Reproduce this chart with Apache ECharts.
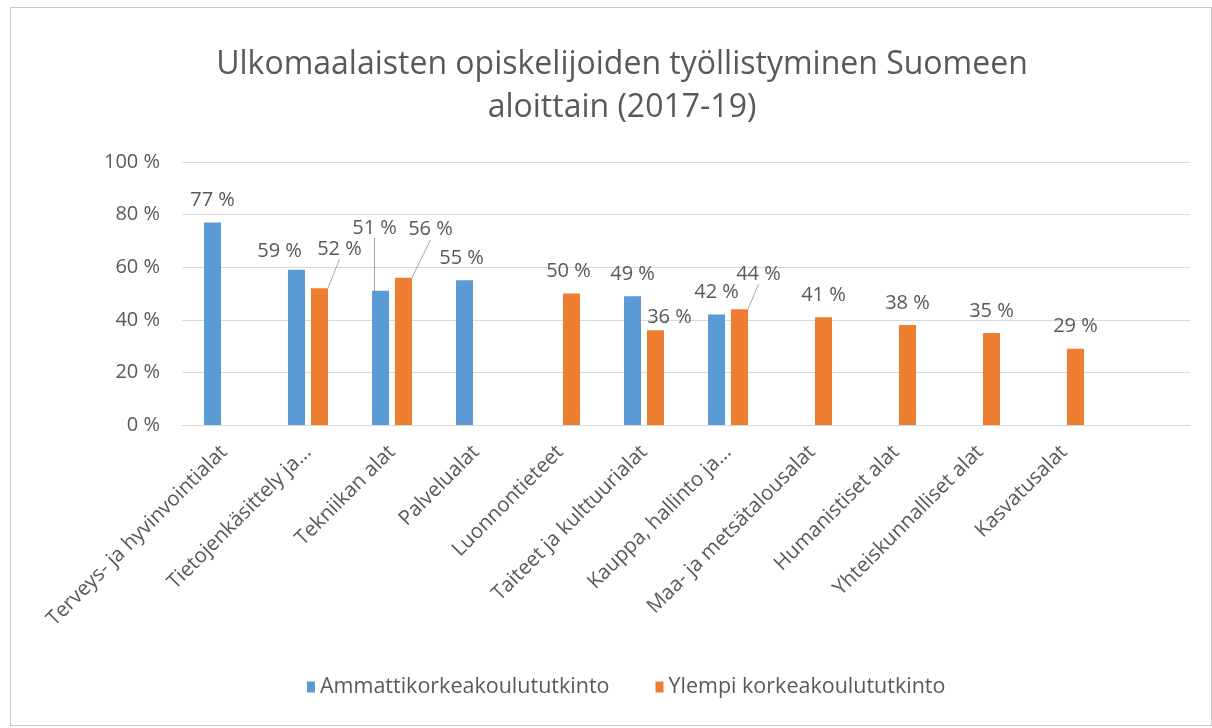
<!DOCTYPE html>
<html>
<head>
<meta charset="utf-8">
<script src="https://cdn.jsdelivr.net/npm/echarts@6/dist/echarts.min.js"></script>
<style>
  html, body { margin: 0; padding: 0; background: #fff; }
  #chart { width: 1212px; height: 728px; }
  .frame {
    position: absolute; left: 10px; top: 7px; width: 1202px; height: 719px;
    border: 1px solid #c8c8c8; box-sizing: border-box; pointer-events: none;
  }
</style>
</head>
<body>
<div id="chart"></div>
<div class="frame"></div>
<script>
  // aloittain, viimeinen tyhjä rivi kuten Excelissä
  var categories = [
    'Terveys- ja hyvinvointialat', 'Tietojenkäsittely ja...', 'Tekniikan alat',
    'Palvelualat', 'Luonnontieteet', 'Taiteet ja kulttuurialat',
    'Kauppa, hallinto ja...', 'Maa- ja metsätalousalat', 'Humanistiset alat',
    'Yhteiskunnalliset alat', 'Kasvatusalat', ''
  ];
  var seriesNames = ['Ammattikorkeakoulututkinto', 'Ylempi korkeakoulututkinto'];
  var amk = [77, 59, 51, 55, null, 49, 42, null, null, null, null, null];
  var ylempi = [null, 52, 56, null, 50, 36, 44, 41, 38, 35, 29, null];
  var yTicks = [0, 20, 40, 60, 80, 100];

  var grey = '#595959';
  var font = 'Open Sans';

  // siirretyt datatunnisteet (dx, dy, johtoviiva)
  var moved = {
    '0-1': [-17, 3, false], '0-2': [-6, -41, true], '0-3': [-3, 0, false],
    '1-1': [20, -17, true], '1-2': [27, -26, true], '1-4': [-3, 0, false],
    '1-5': [14, 9, false], '1-6': [19, -13, true]
  };

  function toItems(values, s) {
    return values.map(function (v, i) {
      var m = moved[s + '-' + i];
      return {
        value: v,
        labelLine: { show: !!(m && m[2]), lineStyle: { color: '#a6a6a6', width: 1 } }
      };
    });
  }

  var myChart = echarts.init(document.getElementById('chart'));
  var option = {
    animation: false,
    textStyle: { fontFamily: font },
    title: {
      text: 'Ulkomaalaisten opiskelijoiden työllistyminen Suomeen\naloittain (2017-19)',
      left: 622,
      textAlign: 'center',
      top: 43,
      padding: 0,
      textStyle: { fontFamily: font, fontSize: 32, fontWeight: 'normal', color: grey, lineHeight: 43 }
    },
    legend: {
      data: seriesNames,
      top: 671,
      left: 302,
      itemWidth: 8,
      itemHeight: 11,
      itemGap: 46,
      icon: 'rect',
      textStyle: { fontFamily: font, fontSize: 21.5, color: grey }
    },
    grid: { left: 182, right: 22, top: 162, bottom: 303, containLabel: false },
    xAxis: {
      type: 'category',
      data: categories,
      axisLine: { lineStyle: { color: '#d9d9d9' } },
      axisTick: { show: false },
      axisLabel: { interval: 0, rotate: 45, margin: 24, fontFamily: font, fontSize: 20.5, color: grey }
    },
    yAxis: {
      type: 'value',
      min: yTicks[0],
      max: yTicks[yTicks.length - 1],
      interval: 20,
      axisLine: { show: false },
      axisTick: { show: false },
      splitLine: { lineStyle: { color: '#d9d9d9', width: 1 } },
      axisLabel: { margin: 22, fontFamily: font, fontSize: 20, color: grey, formatter: '{value} %' }
    },
    series: [
      {
        name: seriesNames[0],
        type: 'bar',
        data: toItems(amk, 0),
        barWidth: 17,
        barGap: '35%',
        itemStyle: { color: '#5b9bd5' },
        label: { show: true, position: 'top', distance: 12, fontSize: 20, color: grey, formatter: '{c} %' }
      },
      {
        name: seriesNames[1],
        type: 'bar',
        data: toItems(ylempi, 1),
        barWidth: 17,
        barGap: '35%',
        itemStyle: { color: '#ed7d31' },
        label: { show: true, position: 'top', distance: 12, fontSize: 20, color: grey, formatter: '{c} %' }
      }
    ],
    labelLayout: function (params) {
      var m = moved[params.seriesIndex + '-' + params.dataIndex];
      if (!m) return {};
      return { dx: m[0], dy: m[1] };
    }
  };
  myChart.setOption(option);
</script>
</body>
</html>
